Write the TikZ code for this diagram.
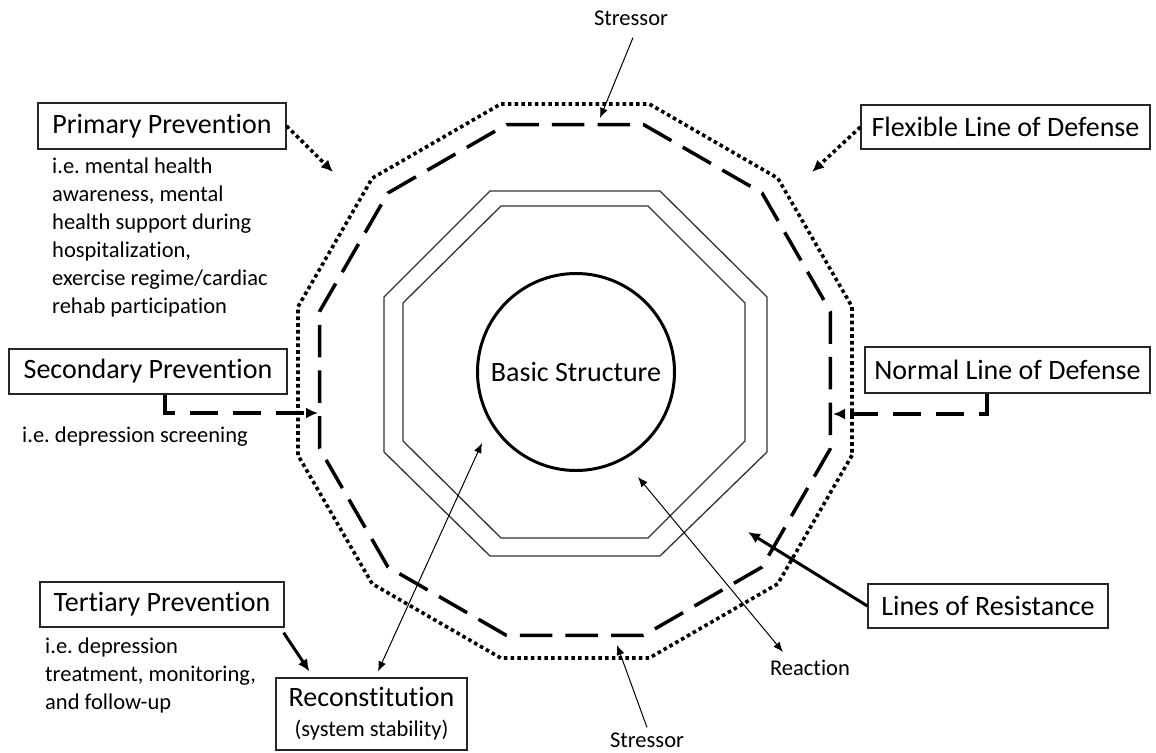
\documentclass[tikz,border=0pt]{standalone}
\usepackage{fontspec}
\setmainfont{Carlito}[Ligatures=NoCommon]
\usepackage{tikz}
\usetikzlibrary{arrows.meta}
\frenchspacing

\begin{document}
\begin{tikzpicture}[x=1pt,y=-1pt,
                box/.style={draw=black!85,line width=1.2pt,inner sep=0pt,font=\fontsize{28}{34}\selectfont},
                desc/.style={inner sep=0pt,align=left,font=\fontsize{22.5}{28}\selectfont},
                dotline/.style={line width=3.6pt,dash pattern=on 3.6pt off 3.15pt},
                dashline/.style={line width=3.5pt,dash pattern=on 32.5pt off 13.13pt},
                linkdash/.style={line width=3.5pt,dash pattern=on 28pt off 15pt},
                resline/.style={line width=1.3pt,draw=black!80},
                thinarrow/.style={line width=1pt},
                bigtip/.tip={Latex[length=12pt,width=11pt]},
                smalltip/.tip={Latex[length=10pt,width=8pt]}]
                \useasboundingbox (0,0) rectangle (1156,752);

                \draw[dotline] (575,381) +(15:286.8) \foreach \a in {45,75,...,345}{ -- +(\a:286.8)} -- cycle;
                \draw[dashline] (575,380) +(15:264.5) \foreach \a in {45,75,...,345}{ -- +(\a:264.5)} -- cycle;

                \draw[resline] (490,191) -- (660,191) -- (767,297) -- (767,452) -- (660,556) -- (490,556) -- (384,452) -- (384,297) -- cycle;
                \draw[resline] (501,206) -- (648,206) -- (745,303) -- (745,441) -- (648,538) -- (501,538) -- (403,441) -- (403,303) -- cycle;

                \node[circle,draw,line width=3pt,minimum size=197pt,inner sep=0pt,font=\fontsize{28}{34}\selectfont] (basic) at (576,372) {Basic Structure};

                \node[box,minimum width=248pt,minimum height=46pt] (primary) at (162,126) {Primary Prevention};
                \node[box,minimum width=289pt,minimum height=44pt] (flexible) at (1005.5,127) {Flexible Line of Defense};
                \node[box,minimum width=278pt,minimum height=45pt] (secondary) at (148,371.5) {Secondary Prevention};
                \node[box,minimum width=285pt,minimum height=46pt] (normal) at (1007.5,370) {Normal Line of Defense};
                \node[box,minimum width=244pt,minimum height=45pt] (tertiary) at (162,604.5) {Tertiary Prevention};
                \node[box,minimum width=240pt,minimum height=44pt] (lines) at (988,606) {Lines of Resistance};
                \node[box,minimum width=191pt,minimum height=72pt,align=center] (reconst) at (371.5,714)
                    {Reconstitution\\[-4pt]{\fontsize{22.5}{27}\selectfont(system stability)}};

                \node[desc,anchor=north west] (primDesc) at (52,158) {i.e. mental health\\awareness, mental\\health support during\\hospitalization,\\exercise regime/cardiac\\rehab participation};
                \node[desc,anchor=north west] (secDesc) at (22,427) {i.e. depression screening};
                \node[desc,anchor=north west] (terDesc) at (45,638) {i.e. depression\\treatment, monitoring,\\and follow-up};

                \node[desc] (stressTop) at (631,18) {Stressor};
                \node[desc] (stressBot) at (647,740) {Stressor};
                \node[desc] (reaction) at (810,668) {Reaction};

                \coordinate (primTip) at (333,172);
                \coordinate (flexTip) at (812,172);
                \coordinate (secTip) at (318,413);
                \coordinate (normTip) at (833,414);
                \coordinate (linesTip) at (748,532);
                \coordinate (recTip) at (482,443);
                \coordinate (reacTip) at (638,477);
                \coordinate (topTip) at (600,118);
                \coordinate (botTip) at (617,645);

                \draw[dotline,-bigtip] (primary.east) -- (primTip);
                \draw[dotline,-bigtip] (flexible.west) -- (flexTip);
                \draw[linkdash,-bigtip] ([xshift=17pt]secondary.south) |- (secTip);
                \draw[linkdash,-bigtip] ([xshift=-20.5pt]normal.south) |- (normTip);
                \draw[line width=3pt,-bigtip] ([shift={(-1,5)}]tertiary.south east) -- ([shift={(34,-6)}]reconst.north west);
                \draw[line width=3pt,-bigtip] (lines.west) -- (linesTip);
                \draw[thinarrow,smalltip-smalltip] (recTip) -- ([shift={(6.5,-6)}]reconst.north);
                \draw[thinarrow,smalltip-smalltip] (reacTip) -- ([shift={(13,-8)}]reaction.north west);
                \draw[thinarrow,-smalltip] ([shift={(2,12)}]stressTop.south) -- (topTip);
                \draw[thinarrow,-smalltip] ([shift={(0,-5)}]stressBot.north) -- (botTip);
            \end{tikzpicture}
\end{document}
